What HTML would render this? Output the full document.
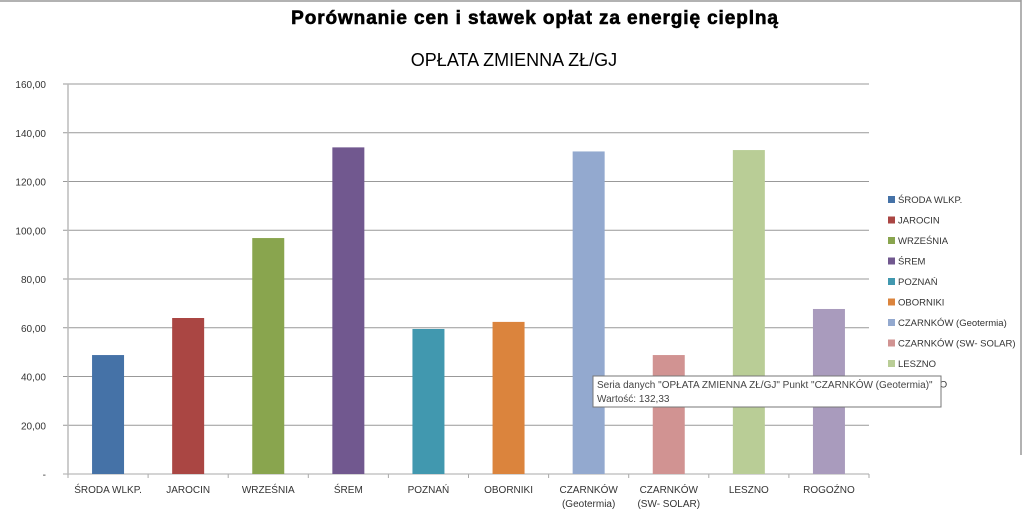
<!DOCTYPE html>
<html><head><meta charset="utf-8"><style>
html,body{margin:0;padding:0;background:#fff;width:1024px;height:515px;overflow:hidden;font-family:"Liberation Sans",sans-serif}
svg text{font-family:"Liberation Sans",sans-serif}
</style></head><body>
<svg id="chart" width="1024" height="515">
<line x1="0" y1="1" x2="1021" y2="1" stroke="#999" stroke-width="1.5"/>
<line x1="1021" y1="0" x2="1021" y2="455" stroke="#999" stroke-width="1.5"/>
<text x="535" y="24" text-anchor="middle" font-size="19" font-weight="bold" stroke="#000" stroke-width="0.6" letter-spacing="0.9">Porównanie cen i stawek opłat za energię cieplną</text>
<text x="514" y="66" text-anchor="middle" font-size="18">OPŁATA  ZMIENNA ZŁ/GJ</text>
<g id="grid"></g><g id="bars"></g><g id="xlabels"></g><g id="legend"></g>
<g>
<rect x="593" y="376" width="348" height="31" fill="#fff" stroke="#777"/>
<text x="597" y="388" font-size="10" fill="#444">Seria danych "OPŁATA  ZMIENNA ZŁ/GJ" Punkt "CZARNKÓW (Geotermia)"</text>
<text x="597" y="402" font-size="10" fill="#444">Wartość:   132,33</text>
</g>
</svg>
<script>
const categories=["ŚRODA WLKP.","JAROCIN","WRZEŚNIA","ŚREM","POZNAŃ","OBORNIKI","CZARNKÓW (Geotermia)","CZARNKÓW (SW- SOLAR)","LESZNO","ROGOŹNO"];
const labelLines=[["ŚRODA WLKP."],["JAROCIN"],["WRZEŚNIA"],["ŚREM"],["POZNAŃ"],["OBORNIKI"],["CZARNKÓW","(Geotermia)"],["CZARNKÓW","(SW- SOLAR)"],["LESZNO"],["ROGOŹNO"]];
const values=[48.8,64.0,96.8,134.0,59.5,62.4,132.33,48.8,132.9,67.7];
const colors=["#4572a7","#aa4643","#89a54e","#71588f","#4198af","#db843d","#93a9cf","#d19392","#b9cd96","#a99bbd"];
const ticks=[0,20,40,60,80,100,120,140,160];
const tickLabels=["-","20,00","40,00","60,00","80,00","100,00","120,00","140,00","160,00"];
const NS="http://www.w3.org/2000/svg";
const X0=68,X1=869,Y0=474,Y1=84,YMAX=160;
const y=v=>Y0-(v/YMAX)*(Y0-Y1);
const bw=(X1-X0)/categories.length;
const xc=i=>X0+bw*(i+0.5);
function mk(tag,attrs,parent){const e=document.createElementNS(NS,tag);for(const k in attrs)e.setAttribute(k,attrs[k]);parent.appendChild(e);return e;}
const grid=document.getElementById('grid');
ticks.forEach((t,i)=>{
  const l=mk('line',{x1:X0-5,x2:X1,y1:y(t),y2:y(t),stroke:i===0?'#aaa':'#999','stroke-width':1},grid);
  
  
  const tx=mk('text',{x:46,y:y(t)+4,'text-anchor':'end','font-size':10,fill:'#333'},grid);
  tx.textContent=tickLabels[i];
  
  
});
const ax=mk('line',{x1:X0,x2:X0,y1:Y1,y2:Y0,stroke:'#bbb','stroke-width':1.5},grid);


for(let i=0;i<=categories.length;i++){
  const tk=mk('line',{x1:X0+bw*i,x2:X0+bw*i,y1:Y0,y2:Y0+4,stroke:'#aaa'},grid);
  
  
}
const bars=document.getElementById('bars'),xl=document.getElementById('xlabels'),lg=document.getElementById('legend');
values.forEach((v,i)=>{
  const r=mk('rect',{x:xc(i)-16,y:y(v),width:32,height:Y0-y(v),fill:colors[i]},bars);
  
  
  labelLines[i].forEach((s,j)=>{
    const t=mk('text',{x:xc(i),y:493+j*14,'text-anchor':'middle','font-size':10,fill:'#333'},xl);
    t.textContent=s;
    
    
  });
  const ly=203+i*20.5;
  const sq=mk('rect',{x:888,y:ly-7,width:7,height:7,fill:colors[i]},lg);
  
  
  const lt=mk('text',{x:898,y:ly,'font-size':9.5,fill:'#333'},lg);
  lt.textContent=categories[i];
  
  
});
</script>
</body></html>
